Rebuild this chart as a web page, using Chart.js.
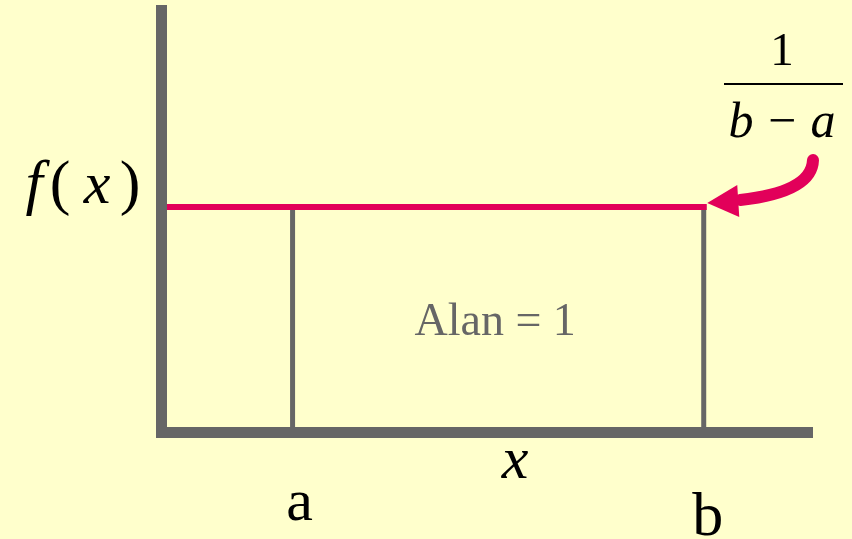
<!DOCTYPE html>
<html>
<head>
<meta charset="utf-8">
<script src="https://cdn.jsdelivr.net/npm/chart.js"></script>
<style>
  html, body { margin: 0; padding: 0; background: #FFFFCC; }
  #wrap { width: 852px; height: 539px; }
</style>
</head>
<body>
<div id="wrap"><canvas id="myChart" width="852" height="539"></canvas></div>
<script>
// uniform density on [a, b]
const pointA = 1
const pointB = 4
const hauteur = 1 / (pointB - pointA)
const xLimits = [0.04, 4.79]
const yLimits = [0, 0.625]
const tickLabels = ['a', 'b']
const areaLabel = 'Alan = 1'

const rectangle = [
    { x: pointA, y: 0 },
    { x: pointA, y: hauteur },
    { x: pointB, y: hauteur },
    { x: pointB, y: 0 }
]
const ligneRouge = [
    { x: xLimits[0], y: hauteur },
    { x: pointB, y: hauteur }
]

const gris = '#666666'
const rouge = '#E2005A'
const serif = '"Liberation Serif", "Times New Roman", serif'

const textes = {
    id: 'textes',
    afterDraw(chart) {
        const ctx = chart.ctx
        const x = chart.scales.x
        const y = chart.scales.y
        const px = (v) => x.getPixelForValue(v)
        const py = (v) => y.getPixelForValue(v)
        ctx.save()
        ctx.textAlign = 'center'
        ctx.textBaseline = 'alphabetic'

        // aire
        ctx.fillStyle = gris
        ctx.font = '46px ' + serif
        ctx.fillText(areaLabel, (px(pointA) + px(pointB)) / 2 - 3, (py(0) + py(hauteur)) / 2 + 16)

        ctx.fillStyle = '#000000'
        // f(x)
        const base = py(hauteur) - 4
        ctx.font = 'italic 62px ' + serif
        ctx.fillText('f', 34, base)
        ctx.font = 'italic 60px ' + serif
        ctx.fillText('x', 97, base)
        ctx.font = '62px ' + serif
        ctx.fillText('(', 60, base)
        ctx.fillText(')', 130, base)

        // x label
        ctx.font = 'italic 60px ' + serif
        ctx.fillText('x', 515, 478)

        // a et b
        ctx.font = '60px ' + serif
        ctx.fillText(tickLabels[0], px(pointA) + 7, 520)
        ctx.font = '62px ' + serif
        ctx.fillText(tickLabels[1], px(pointB) + 4, 535)

        // 1 / (b - a)
        ctx.font = '47px ' + serif
        ctx.fillText('1', 782, 65)
        ctx.fillRect(724, 83, 119, 2)
        ctx.font = 'italic 50px ' + serif
        ctx.fillText('b', 741, 137)
        ctx.fillText('a', 823, 137)
        ctx.font = '50px ' + serif
        ctx.fillText('\u2212', 782, 137)

        // fleche
        const tx = px(pointB) + 3.5
        const ty = py(hauteur) - 4
        ctx.strokeStyle = rouge
        ctx.fillStyle = rouge
        ctx.lineWidth = 12
        ctx.lineCap = 'round'
        ctx.beginPath()
        ctx.moveTo(813, 160)
        ctx.quadraticCurveTo(812, 192, tx + 33, ty - 3)
        ctx.stroke()
        ctx.beginPath()
        ctx.moveTo(tx, ty)
        ctx.lineTo(tx + 30, ty - 18)
        ctx.lineTo(tx + 32, ty + 14)
        ctx.closePath()
        ctx.fill()
        ctx.restore()
    }
}

const data = {
    datasets: [{
        data: ligneRouge,
        showLine: true,
        borderColor: rouge,
        borderWidth: 6,
        borderCapStyle: 'square',
        pointRadius: 0,
        fill: false,
        clip: false,
        order: 0
    }, {
        data: rectangle,
        showLine: true,
        borderColor: gris,
        borderWidth: 5,
        pointRadius: 0,
        fill: false,
        tension: 0,
        clip: false,
        order: 1
    }]
}

const config = {
    type: 'scatter',
    data: data,
    options: {
        responsive: false,
        animation: false,
        layout: { padding: { left: 161, right: 40, top: 10, bottom: 107 } },
        plugins: { legend: { display: false }, tooltip: { enabled: false } },
        scales: {
            x: {
                type: 'linear', min: xLimits[0], max: xLimits[1],
                ticks: { display: false }, grid: { display: false, drawTicks: false },
                border: { display: true, color: gris, width: 11, z: 1 }
            },
            y: {
                type: 'linear', min: yLimits[0], max: yLimits[1],
                ticks: { display: false }, grid: { display: false, drawTicks: false },
                border: { display: true, color: gris, width: 11, z: 1 }
            }
        }
    },
    plugins: [textes]
}

new Chart(document.getElementById('myChart'), config)
</script>
</body>
</html>
